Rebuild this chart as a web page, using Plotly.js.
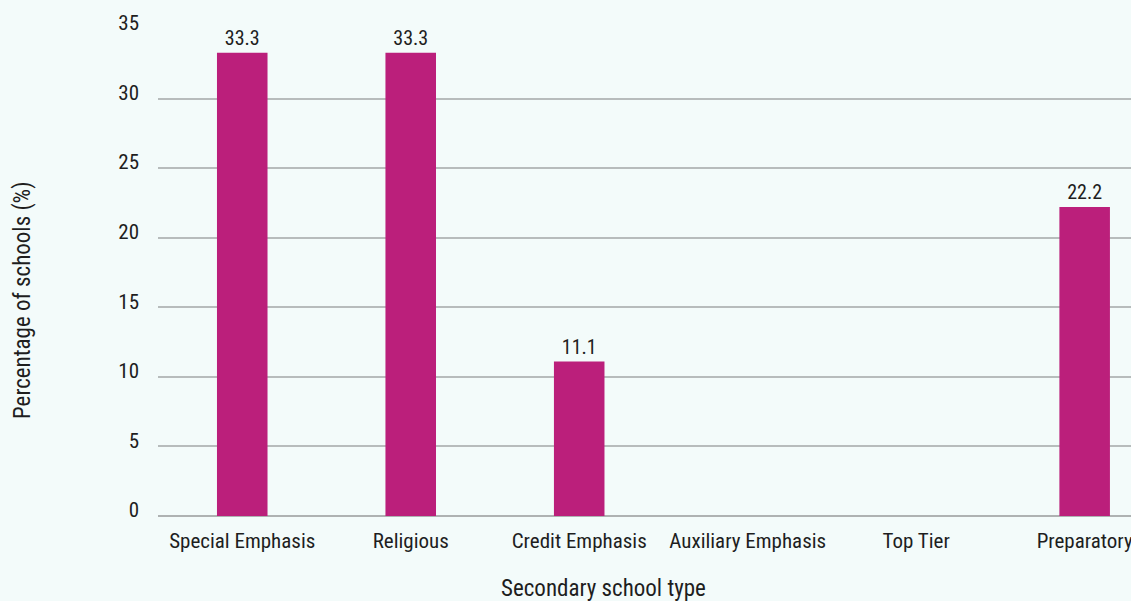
<!DOCTYPE html>
<html><head><meta charset="utf-8">
<script src="https://cdn.plot.ly/plotly-3.0.1.min.js"></script>
<style>html,body{margin:0;padding:0;background:#f3fbfa;}#chart{width:1131px;height:601px;}</style>
</head><body><div id="chart"></div>
<script>
const categories = ["Special Emphasis","Religious","Credit Emphasis","Auxiliary Emphasis","Top Tier","Preparatory"];
const values = [33.3, 33.3, 11.1, 0, 0, 22.2];
const labels = ["33.3","33.3","11.1","","","22.2"];
const yTicks = [0,5,10,15,20,25,30,35];

const FONT = "'Roboto Condensed','Liberation Sans Narrow','DejaVu Sans Condensed',sans-serif";
const L = 158, R = 1131, T = 29, B = 516;

const trace = {
  type: 'bar', x: categories, y: values,
  text: labels, textposition: 'outside', cliponaxis: false,
  textfont: {family: FONT, size: 20, color: '#1e1e1e'},
  marker: {color: '#bb1f7b'}, width: 0.3, hoverinfo: 'none'
};
const layout = {
  width: 1131, height: 601,
  paper_bgcolor: '#f3fbfa', plot_bgcolor: '#f3fbfa',
  margin: {l: L, r: 0, t: T, b: 601 - B},
  showlegend: false, bargap: 0.7,
  font: {family: FONT, size: 20, color: '#1e1e1e'},
  xaxis: {type: 'category', range: [-0.5, 5.275], showgrid: false, zeroline: false,
    showline: false, ticks: '', ticklabelstandoff: 10,
    tickfont: {family: FONT, size: 21, color: '#1e1e1e'}},
  yaxis: {range: [0, 35], tickvals: yTicks, showgrid: true, gridcolor: '#b7bcbc', gridwidth: 2,
    zeroline: true, zerolinecolor: '#aeb2b2', zerolinewidth: 2, showline: false, ticks: '',
    ticklabelstandoff: 18, ticklabelshift: -6,
    tickfont: {family: FONT, size: 21, color: '#1e1e1e'}},
  annotations: [
    {text: 'Secondary school type', xref: 'paper', yref: 'paper', x: (603 - L) / (R - L), y: -(588 - B) / (B - T),
     yanchor: 'middle', xanchor: 'center', showarrow: false, font: {family: FONT, size: 23, color: '#1e1e1e'}},
    {text: 'Percentage of schools (%)', xref: 'paper', yref: 'paper', x: (22 - L) / (R - L), y: (B - 300) / (B - T),
     xanchor: 'center', yanchor: 'middle', textangle: -90, showarrow: false, font: {family: FONT, size: 23, color: '#1e1e1e'}}
  ]
};
Plotly.newPlot('chart', [trace], layout, {displayModeBar: false, staticPlot: true});
</script></body></html>
